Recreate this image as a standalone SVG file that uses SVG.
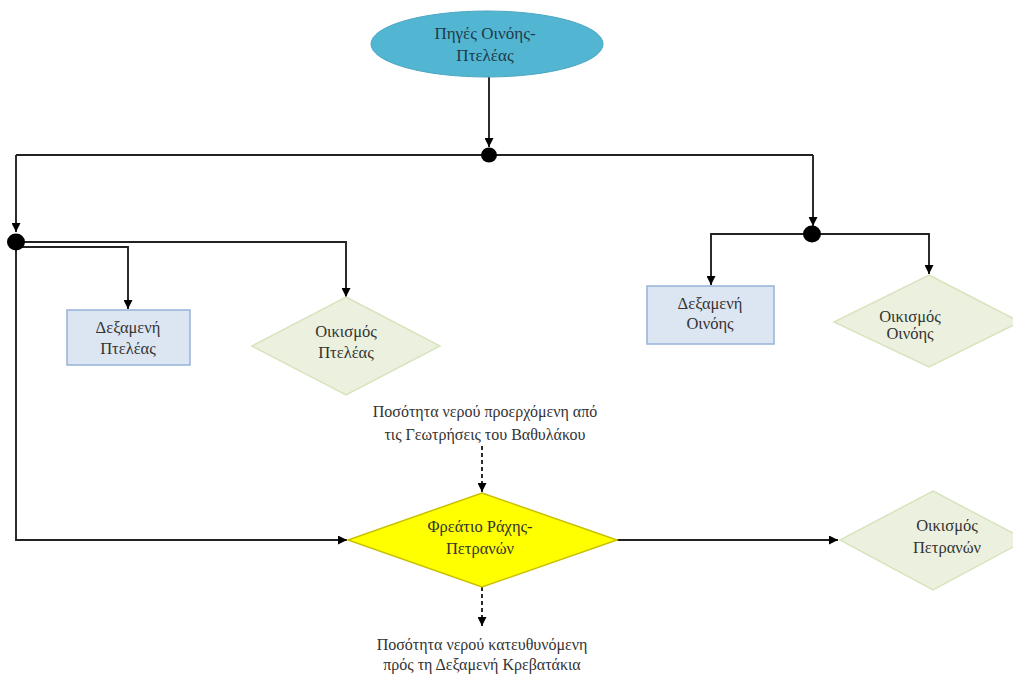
<svg xmlns="http://www.w3.org/2000/svg" width="1013" height="675" viewBox="0 0 1013 675">
<style>
text{font-family:"Liberation Serif","DejaVu Serif",serif;font-size:16.5px;fill:#333;text-anchor:middle}
.lbl{font-size:16px}
.ln{fill:none;stroke:#222;stroke-width:1.9}
.dash{fill:none;stroke:#222;stroke-width:1.9;stroke-dasharray:4 3}
.box{fill:#dce6f2;stroke:#95b3d7;stroke-width:1.5}
.dia{fill:#ebf1de;stroke:#d7e4bd;stroke-width:1.5}
.dot{fill:#000}
</style>
<defs>
<marker id="ah" viewBox="0 0 10 10" refX="10" refY="5" markerWidth="9" markerHeight="9" orient="auto" markerUnits="userSpaceOnUse">
<path d="M0,0 L10,5 L0,10 z" fill="#000"/>
</marker>
</defs>
<rect width="1013" height="675" fill="#fff"/>
<g id="connectors">
<path class="ln" d="M489,77 V147" marker-end="url(#ah)"/>
<path class="ln" d="M16,155 H813"/>
<path class="ln" d="M16,155 V232" marker-end="url(#ah)"/>
<path class="ln" d="M813,155 V226" marker-end="url(#ah)"/>
<path class="ln" d="M16,242 H346 V297" marker-end="url(#ah)"/>
<path class="ln" d="M16,247 H128 V309" marker-end="url(#ah)"/>
<path class="ln" d="M16,242 V540 H347" marker-end="url(#ah)"/>
<path class="ln" d="M812,234 H711 V285" marker-end="url(#ah)"/>
<path class="ln" d="M812,234 H929 V274" marker-end="url(#ah)"/>
<path class="ln" d="M617,540 H838" marker-end="url(#ah)"/>
<path class="dash" d="M482,446 V492" marker-end="url(#ah)"/>
<path class="dash" d="M482,587 V626" marker-end="url(#ah)"/>
<ellipse class="dot" cx="489" cy="155" rx="8" ry="7.5"/>
<ellipse class="dot" cx="16" cy="242" rx="9" ry="8.5"/>
<ellipse class="dot" cx="812" cy="234" rx="9" ry="8.5"/>
</g>
<g id="n-source">
<ellipse cx="487" cy="44" rx="116" ry="33" fill="#52b6d2" stroke="#4aa6c2" stroke-width="1"/>
<text x="485" y="39" style="fill:#1f3a48;font-size:17px">Πηγές Οινόης-</text>
<text x="485" y="61" style="fill:#1f3a48;font-size:17px">Πτελέας</text>
</g>
<g id="n-dex-ptel">
<rect class="box" x="67" y="310" width="123" height="55"/>
<text x="128" y="333">Δεξαμενή</text>
<text x="128" y="354">Πτελέας</text>
</g>
<g id="n-oik-ptel">
<polygon class="dia" points="346,297 440,346 346,395 252,346"/>
<text x="346" y="337">Οικισμός</text>
<text x="346" y="358">Πτελέας</text>
</g>
<g id="n-dex-oin">
<rect class="box" x="647" y="286" width="127" height="58"/>
<text x="710" y="309">Δεξαμενή</text>
<text x="710" y="329">Οινόης</text>
</g>
<g id="n-oik-oin">
<polygon class="dia" points="929,275 1020,322 929,367 834,322"/>
<text x="910" y="322">Οικισμός</text>
<text x="910" y="339">Οινόης</text>
</g>
<g id="n-freatio">
<polygon points="482,493 617,540 482,587 348,540" fill="#ffff00" stroke="#c8c000" stroke-width="1.5"/>
<text x="480" y="532">Φρεάτιο Ράχης-</text>
<text x="480" y="554">Πετρανών</text>
</g>
<g id="n-oik-petr">
<polygon class="dia" points="933,491 1026,540 933,590 840,540"/>
<text x="947" y="531">Οικισμός</text>
<text x="947" y="553">Πετρανών</text>
</g>
<g id="n-label-in">
<text class="lbl" x="485" y="417">Ποσότητα νερού προερχόμενη από</text>
<text class="lbl" x="485" y="440">τις Γεωτρήσεις του Βαθυλάκου</text>
</g>
<g id="n-label-out">
<text class="lbl" x="482" y="650">Ποσότητα νερού κατευθυνόμενη</text>
<text class="lbl" x="482" y="670">πρός τη Δεξαμενή Κρεβατάκια</text>
</g>
</svg>
